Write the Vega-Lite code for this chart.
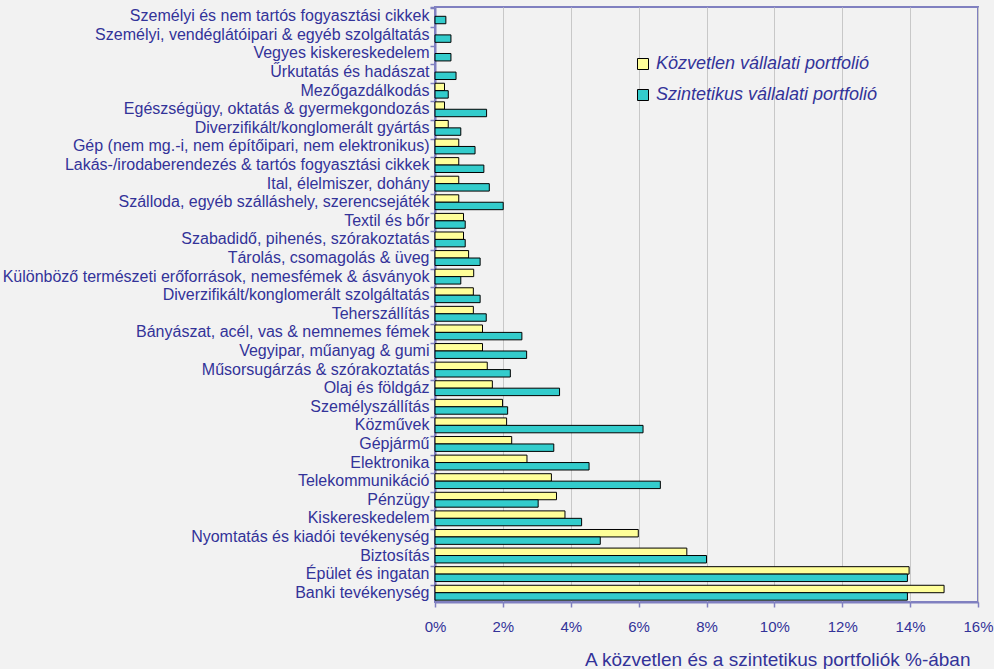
{
  "$schema": "https://vega.github.io/schema/vega-lite/v6.json",
  "width": 543,
  "height": 595,
  "autosize": {"type": "none"},
  "padding": {"left": 435, "top": 7, "right": 16, "bottom": 67},
  "background": "#f2f2f2",
  "config": {
    "view": {"stroke": "#8080c0", "strokeWidth": 2, "fill": "#f2f2f2"},
    "font": "Liberation Sans"
  },
  "data": {
    "values": [
      {"cat": "Személyi és nem tartós fogyasztási cikkek", "series": "Szintetikus vállalati portfolió", "value": 0.32},
      {"cat": "Személyi, vendéglátóipari & egyéb szolgáltatás", "series": "Szintetikus vállalati portfolió", "value": 0.47},
      {"cat": "Vegyes kiskereskedelem", "series": "Szintetikus vállalati portfolió", "value": 0.47},
      {"cat": "Űrkutatás és hadászat", "series": "Szintetikus vállalati portfolió", "value": 0.62},
      {"cat": "Mezőgazdálkodás", "series": "Közvetlen vállalati portfolió", "value": 0.28},
      {"cat": "Mezőgazdálkodás", "series": "Szintetikus vállalati portfolió", "value": 0.39},
      {"cat": "Egészségügy, oktatás & gyermekgondozás", "series": "Közvetlen vállalati portfolió", "value": 0.28},
      {"cat": "Egészségügy, oktatás & gyermekgondozás", "series": "Szintetikus vállalati portfolió", "value": 1.52},
      {"cat": "Diverzifikált/konglomerált gyártás", "series": "Közvetlen vállalati portfolió", "value": 0.39},
      {"cat": "Diverzifikált/konglomerált gyártás", "series": "Szintetikus vállalati portfolió", "value": 0.76},
      {"cat": "Gép (nem mg.-i, nem építőipari, nem elektronikus)", "series": "Közvetlen vállalati portfolió", "value": 0.70},
      {"cat": "Gép (nem mg.-i, nem építőipari, nem elektronikus)", "series": "Szintetikus vállalati portfolió", "value": 1.18},
      {"cat": "Lakás-/irodaberendezés & tartós fogyasztási cikkek", "series": "Közvetlen vállalati portfolió", "value": 0.70},
      {"cat": "Lakás-/irodaberendezés & tartós fogyasztási cikkek", "series": "Szintetikus vállalati portfolió", "value": 1.44},
      {"cat": "Ital, élelmiszer, dohány", "series": "Közvetlen vállalati portfolió", "value": 0.70},
      {"cat": "Ital, élelmiszer, dohány", "series": "Szintetikus vállalati portfolió", "value": 1.60},
      {"cat": "Szálloda, egyéb szálláshely, szerencsejáték", "series": "Közvetlen vállalati portfolió", "value": 0.70},
      {"cat": "Szálloda, egyéb szálláshely, szerencsejáték", "series": "Szintetikus vállalati portfolió", "value": 2.01},
      {"cat": "Textil és bőr", "series": "Közvetlen vállalati portfolió", "value": 0.84},
      {"cat": "Textil és bőr", "series": "Szintetikus vállalati portfolió", "value": 0.89},
      {"cat": "Szabadidő, pihenés, szórakoztatás", "series": "Közvetlen vállalati portfolió", "value": 0.84},
      {"cat": "Szabadidő, pihenés, szórakoztatás", "series": "Szintetikus vállalati portfolió", "value": 0.89},
      {"cat": "Tárolás, csomagolás & üveg", "series": "Közvetlen vállalati portfolió", "value": 0.99},
      {"cat": "Tárolás, csomagolás & üveg", "series": "Szintetikus vállalati portfolió", "value": 1.33},
      {"cat": "Különböző természeti erőforrások, nemesfémek & ásványok", "series": "Közvetlen vállalati portfolió", "value": 1.14},
      {"cat": "Különböző természeti erőforrások, nemesfémek & ásványok", "series": "Szintetikus vállalati portfolió", "value": 0.76},
      {"cat": "Diverzifikált/konglomerált szolgáltatás", "series": "Közvetlen vállalati portfolió", "value": 1.13},
      {"cat": "Diverzifikált/konglomerált szolgáltatás", "series": "Szintetikus vállalati portfolió", "value": 1.33},
      {"cat": "Teherszállítás", "series": "Közvetlen vállalati portfolió", "value": 1.13},
      {"cat": "Teherszállítás", "series": "Szintetikus vállalati portfolió", "value": 1.51},
      {"cat": "Bányászat, acél, vas & nemnemes fémek", "series": "Közvetlen vállalati portfolió", "value": 1.40},
      {"cat": "Bányászat, acél, vas & nemnemes fémek", "series": "Szintetikus vállalati portfolió", "value": 2.56},
      {"cat": "Vegyipar, műanyag & gumi", "series": "Közvetlen vállalati portfolió", "value": 1.40},
      {"cat": "Vegyipar, műanyag & gumi", "series": "Szintetikus vállalati portfolió", "value": 2.70},
      {"cat": "Műsorsugárzás & szórakoztatás", "series": "Közvetlen vállalati portfolió", "value": 1.54},
      {"cat": "Műsorsugárzás & szórakoztatás", "series": "Szintetikus vállalati portfolió", "value": 2.22},
      {"cat": "Olaj és földgáz", "series": "Közvetlen vállalati portfolió", "value": 1.69},
      {"cat": "Olaj és földgáz", "series": "Szintetikus vállalati portfolió", "value": 3.67},
      {"cat": "Személyszállítás", "series": "Közvetlen vállalati portfolió", "value": 1.99},
      {"cat": "Személyszállítás", "series": "Szintetikus vállalati portfolió", "value": 2.14},
      {"cat": "Közművek", "series": "Közvetlen vállalati portfolió", "value": 2.11},
      {"cat": "Közművek", "series": "Szintetikus vállalati portfolió", "value": 6.13},
      {"cat": "Gépjármű", "series": "Közvetlen vállalati portfolió", "value": 2.26},
      {"cat": "Gépjármű", "series": "Szintetikus vállalati portfolió", "value": 3.50},
      {"cat": "Elektronika", "series": "Közvetlen vállalati portfolió", "value": 2.71},
      {"cat": "Elektronika", "series": "Szintetikus vállalati portfolió", "value": 4.54},
      {"cat": "Telekommunikáció", "series": "Közvetlen vállalati portfolió", "value": 3.43},
      {"cat": "Telekommunikáció", "series": "Szintetikus vállalati portfolió", "value": 6.64},
      {"cat": "Pénzügy", "series": "Közvetlen vállalati portfolió", "value": 3.58},
      {"cat": "Pénzügy", "series": "Szintetikus vállalati portfolió", "value": 3.04},
      {"cat": "Kiskereskedelem", "series": "Közvetlen vállalati portfolió", "value": 3.83},
      {"cat": "Kiskereskedelem", "series": "Szintetikus vállalati portfolió", "value": 4.32},
      {"cat": "Nyomtatás és kiadói tevékenység", "series": "Közvetlen vállalati portfolió", "value": 5.99},
      {"cat": "Nyomtatás és kiadói tevékenység", "series": "Szintetikus vállalati portfolió", "value": 4.87},
      {"cat": "Biztosítás", "series": "Közvetlen vállalati portfolió", "value": 7.42},
      {"cat": "Biztosítás", "series": "Szintetikus vállalati portfolió", "value": 8.0},
      {"cat": "Épület és ingatan", "series": "Közvetlen vállalati portfolió", "value": 13.97},
      {"cat": "Épület és ingatan", "series": "Szintetikus vállalati portfolió", "value": 13.92},
      {"cat": "Banki tevékenység", "series": "Közvetlen vállalati portfolió", "value": 15.0},
      {"cat": "Banki tevékenység", "series": "Szintetikus vállalati portfolió", "value": 13.92}
    ]
  },
  "mark": {"type": "bar", "stroke": "#000000", "strokeWidth": 1},
  "encoding": {
    "y": {
      "field": "cat",
      "type": "nominal",
      "sort": null,
      "scale": {"paddingInner": 0.2, "paddingOuter": 0.1},
      "axis": {
        "title": null,
        "labelFontSize": 16,
        "labelColor": "#333399",
        "labelFont": "Liberation Sans",
        "labelLimit": 600,
        "labelPadding": 1,
        "domainColor": "#8080c0",
        "domainWidth": 2,
        "tickColor": "#8080c0",
        "tickWidth": 1.5,
        "tickSize": 5,
        "bandPosition": 0,
        "tickExtra": true
      }
    },
    "yOffset": {
      "field": "series",
      "type": "nominal",
      "sort": ["Közvetlen vállalati portfolió", "Szintetikus vállalati portfolió"],
      "scale": {"paddingInner": 0, "paddingOuter": 0}
    },
    "x": {
      "field": "value",
      "type": "quantitative",
      "scale": {"domain": [0, 16], "nice": false},
      "axis": {
        "values": [0, 2, 4, 6, 8, 10, 12, 14, 16],
        "labelExpr": "datum.value + '%'",
        "labelFontSize": 15,
        "labelColor": "#333399",
        "labelFont": "Liberation Sans",
        "labelPadding": 12,
        "labelFlush": false,
        "domainColor": "#8080c0",
        "domainWidth": 2,
        "tickColor": "#8080c0",
        "tickWidth": 1.5,
        "tickSize": 5,
        "gridColor": "#c8c8c8",
        "gridWidth": 1,
        "title": "A közvetlen és a szintetikus portfoliók %-ában",
        "titleFont": "Liberation Sans",
        "titleFontSize": 19,
        "titleFontWeight": "normal",
        "titleColor": "#333399",
        "titleAlign": "right",
        "titleAnchor": "end",
        "titleBaseline": "alphabetic",
        "titleX": 535,
        "titleY": 63
      }
    },
    "color": {
      "field": "series",
      "type": "nominal",
      "sort": ["Közvetlen vállalati portfolió", "Szintetikus vállalati portfolió"],
      "scale": {"range": ["#ffff99", "#33cccc"]},
      "legend": {
        "title": null,
        "orient": "none",
        "legendX": 199,
        "legendY": 48,
        "padding": 0,
        "symbolType": "square",
        "symbolSize": 121,
        "symbolStrokeColor": "#000000",
        "symbolStrokeWidth": 1,
        "labelFont": "Liberation Sans",
        "labelFontSize": 18,
        "labelFontStyle": "italic",
        "labelColor": "#333399",
        "labelOffset": 4,
        "labelLimit": 400,
        "rowPadding": 13
      }
    }
  }
}
